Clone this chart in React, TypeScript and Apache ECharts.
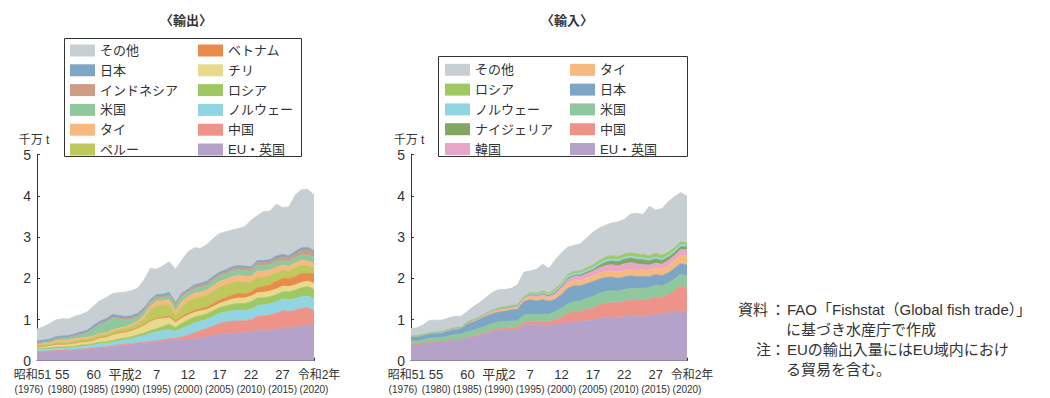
import React, { useEffect, useRef } from "react";
import * as echarts from "echarts";

const years = ["1976","1977","1978","1979","1980","1981","1982","1983","1984","1985","1986","1987","1988","1989","1990","1991","1992","1993","1994","1995","1996","1997","1998","1999","2000","2001","2002","2003","2004","2005","2006","2007","2008","2009","2010","2011","2012","2013","2014","2015","2016","2017","2018","2019","2020"];
const tickYears = ["1976","1980","1985","1990","1995","2000","2005","2010","2015","2020"];
const eraLabels = ["昭和51","55","60","平成2","7","12","17","22","27","令和2年"];

// 輸出 (千万t)
const exEU = [.21,.22,.23,.24,.24,.25,.26,.27,.28,.30, .31,.32,.34,.36,.37,.38,.40,.42,.43,.44, .47,.49,.49,.51,.52,.54,.56,.58,.61,.65, .66,.67,.67,.68,.70,.73,.72,.74,.76,.80, .80,.82,.85,.87,.84];
const exCN = [0,0,0,.01,.01,.01,.01,.01,.01,.01, .02,.02,.02,.03,.03,.03,.03,.03,.04,.04, .04,.05,.05,.07,.10,.14,.18,.20,.23,.26, .28,.29,.30,.29,.29,.35,.37,.37,.39,.41, .40,.40,.42,.42,.37];
const exNO = [.07,.06,.05,.05,.05,.05,.05,.06,.06,.07, .08,.08,.08,.09,.10,.12,.14,.16,.19,.22, .22,.21,.17,.20,.22,.23,.22,.22,.23,.24, .24,.25,.25,.25,.26,.26,.27,.27,.28,.29, .28,.28,.28,.28,.29];
const exRU = [.02,.02,.03,.03,.03,.03,.03,.04,.04,.04, .04,.04,.05,.05,.05,.05,.06,.06,.07,.08, .10,.14,.10,.13,.15,.15,.14,.14,.14,.14, .15,.16,.17,.17,.18,.18,.17,.17,.17,.17, .19,.21,.22,.23,.23];
const exCL = [.04,.05,.06,.07,.07,.07,.08,.08,.08,.08, .10,.11,.14,.14,.13,.14,.15,.18,.22,.23, .19,.15,.12,.12,.12,.11,.11,.10,.10,.10, .11,.12,.13,.13,.14,.13,.13,.14,.14,.14, .13,.13,.13,.13,.15];
const exVN = [0,0,0,0,0,0,0,0,0,0, .01,.01,.01,.01,.02,.02,.02,.02,.02,.02, .03,.04,.04,.04,.04,.05,.05,.06,.07,.08, .09,.10,.11,.10,.10,.12,.14,.15,.18,.19, .19,.20,.21,.19,.22];
const exPE = [.04,.04,.03,.04,.04,.04,.05,.04,.05,.06, .06,.06,.07,.07,.08,.09,.10,.15,.25,.30, .28,.28,.13,.24,.28,.29,.28,.28,.30,.31, .30,.30,.29,.28,.22,.26,.22,.22,.22,.20, .18,.21,.21,.18,.14];
const exTH = [.02,.02,.03,.04,.06,.05,.05,.05,.05,.04, .04,.04,.04,.04,.04,.05,.06,.08,.10,.12, .12,.12,.10,.12,.12,.13,.13,.13,.14,.14, .14,.15,.15,.15,.15,.15,.15,.14,.13,.12, .12,.12,.12,.12,.12];
const exUS = [.02,.03,.03,.04,.04,.05,.06,.08,.10,.18, .22,.25,.28,.22,.16,.12,.10,.09,.08,.08, .08,.08,.12,.12,.10,.10,.11,.12,.13,.14, .14,.14,.14,.14,.14,.14,.14,.13,.13,.12, .12,.13,.14,.14,.16];
const exID = [.02,.02,.02,.02,.02,.02,.02,.02,.02,.02, .02,.03,.03,.03,.04,.04,.04,.04,.04,.04, .04,.04,.05,.05,.05,.05,.05,.05,.05,.04, .05,.05,.05,.06,.06,.06,.07,.07,.08,.08, .08,.09,.10,.13,.10];
const exJP = [.04,.04,.04,.04,.04,.04,.04,.05,.05,.06, .06,.06,.06,.06,.05,.05,.05,.05,.04,.04, .04,.06,.04,.04,.04,.05,.05,.05,.05,.05, .05,.05,.05,.04,.04,.05,.05,.05,.06,.06, .06,.06,.06,.06,.05];
const exOT = [.29,.32,.38,.41,.42,.40,.43,.42,.45,.47, .50,.51,.51,.55,.60,.61,.61,.68,.76,.61, .69,.74,.81,.80,.91,.90,.85,.89,.92,.94, .92,.89,.90,.96,1.13,1.09,1.19,1.18,1.26,1.14, 1.18,1.37,1.41,1.41,1.35];

// 輸入 (千万t)
const imEU = [.39,.39,.41,.44,.46,.46,.48,.50,.51,.56, .58,.62,.66,.71,.74,.74,.74,.75,.88,.88, .86,.87,.85,.90,.91,.92,.95,.94,.98,.99, 1.02,1.05,1.06,1.04,1.07,1.09,1.07,1.08,1.07,1.14, 1.13,1.16,1.18,1.20,1.19];
const imCN = [0,0,0,0,0,0,.01,.01,.01,.01, .02,.02,.02,.03,.04,.05,.06,.06,.06,.08, .08,.08,.09,.10,.14,.22,.24,.25,.26,.29, .33,.34,.35,.36,.37,.38,.40,.40,.42,.41, .40,.44,.52,.62,.56];
const imUS = [.09,.09,.10,.10,.10,.10,.11,.12,.12,.14, .14,.15,.16,.16,.16,.16,.16,.16,.17,.17, .18,.18,.18,.19,.22,.24,.25,.26,.27,.28, .28,.29,.29,.29,.29,.29,.28,.28,.28,.29, .28,.28,.28,.28,.30];
const imJP = [.10,.10,.11,.11,.10,.11,.12,.13,.14,.18, .20,.22,.24,.24,.24,.25,.27,.28,.33,.35, .33,.35,.32,.30,.34,.38,.38,.37,.36,.36, .35,.34,.33,.31,.30,.30,.29,.28,.27,.25, .25,.25,.26,.26,.27];
const imTH = [.01,.01,.01,.01,.02,.02,.02,.02,.02,.03, .03,.03,.04,.05,.05,.05,.05,.05,.06,.08, .08,.08,.08,.09,.10,.12,.12,.12,.13,.13, .14,.15,.15,.15,.16,.16,.16,.16,.16,.16, .16,.17,.18,.20,.22];
const imKR = [0,0,0,0,0,0,0,0,0,0, .01,.01,.01,.02,.02,.02,.02,.02,.02,.03, .04,.05,.04,.06,.07,.09,.10,.11,.11,.12, .13,.14,.15,.15,.16,.16,.15,.13,.12,.12, .12,.13,.13,.14,.15];
const imNG = [0,0,0,0,0,0,0,0,0,.01, .01,.01,.01,.01,.01,.01,.01,.01,.01,.02, .02,.02,.02,.02,.02,.03,.03,.03,.04,.04, .06,.08,.09,.10,.11,.11,.11,.12,.10,.10, .09,.08,.07,.07,.07];
const imNO = [0,0,0,0,0,0,0,0,0,0, 0,0,0,0,.01,.01,.01,.01,.01,.02, .02,.03,.03,.04,.04,.05,.05,.05,.05,.05, .05,.05,.05,.05,.05,.05,.05,.05,.05,.05, .05,.05,.05,.05,.05];
const imRU = [.01,.01,.01,.02,.02,.02,.02,.03,.01,.01, .01,.01,.01,.01,.02,.02,.02,.02,.02,.03, .03,.04,.03,.05,.04,.05,.05,.05,.06,.06, .07,.08,.08,.08,.08,.08,.08,.08,.08,.09, .08,.07,.07,.07,.05];
const imOT = [.18,.20,.24,.30,.28,.28,.28,.27,.27,.26, .32,.35,.39,.43,.44,.42,.42,.49,.59,.52, .58,.64,.60,.70,.74,.66,.63,.66,.72,.80, .79,.77,.79,.84,.84,.94,.99,.97,1.20,1.05, 1.13,1.23,1.24,1.19,1.13];

const exLegendL = ["その他", "日本", "インドネシア", "米国", "タイ", "ペルー"];
const exLegendR = ["ベトナム", "チリ", "ロシア", "ノルウェー", "中国", "EU・英国"];
const imLegendL = ["その他", "ロシア", "ノルウェー", "ナイジェリア", "韓国"];
const imLegendR = ["タイ", "日本", "米国", "中国", "EU・英国"];

const COLORS: Record<string, string> = {
  "その他": "#c8cfd3",
  "日本": "#7da5c6",
  "インドネシア": "#cd9c82",
  "米国": "#8fc89c",
  "タイ": "#f6ba80",
  "ペルー": "#bec85c",
  "ベトナム": "#e98b4a",
  "チリ": "#e9d98d",
  "ロシア": "#9fc862",
  "ノルウェー": "#91d5e2",
  "中国": "#ee9389",
  "EU・英国": "#b4a2c8",
  "ナイジェリア": "#81a763",
  "韓国": "#e9a7c8",
};

const FONT = "'Liberation Sans', 'Noto Sans CJK JP', sans-serif";
const TXT = "#333";

function mkSeries(name: string, data: number[], idx: number) {
  const c = COLORS[name];
  return {
    type: "line",
    name,
    data,
    stack: idx === 0 ? "ex" : "im",
    xAxisIndex: idx,
    yAxisIndex: idx,
    symbol: "none",
    showSymbol: false,
    silent: true,
    lineStyle: { width: 0.8, color: c },
    itemStyle: { color: c },
    areaStyle: { color: c, opacity: 1 },
    emphasis: { disabled: true },
  };
}

function mkX(gridIndex: number) {
  const isTick = (i: number, v: string) => tickYears.indexOf(String(v)) >= 0;
  return {
    type: "category",
    gridIndex,
    data: years,
    boundaryGap: false,
    axisLine: { show: true, lineStyle: { color: TXT, width: 1 } },
    axisTick: { show: true, inside: true, length: 3, interval: isTick, lineStyle: { color: TXT } },
    axisLabel: {
      interval: 0,
      hideOverlap: false,
      margin: 6,
      color: TXT,
      fontFamily: FONT,
      formatter: (v: string) => {
        const k = tickYears.indexOf(String(v));
        if (k < 0) return "";
        const p = k === 0 ? "f" : k === tickYears.length - 1 ? "l" : "n";
        return `{${p}E|${eraLabels[k]}}\n{${p}Y|(${v})}`;
      },
      rich: {
        nE: { fontSize: 13, lineHeight: 16, color: TXT, fontFamily: FONT },
        nY: { fontSize: 10, lineHeight: 14, color: TXT, fontFamily: FONT },
        fE: { fontSize: 12, lineHeight: 16, color: TXT, fontFamily: FONT, padding: [0, 9, 0, 0] },
        fY: { fontSize: 10, lineHeight: 14, color: TXT, fontFamily: FONT, padding: [0, 16, 0, 0] },
        lE: { fontSize: 12, lineHeight: 16, color: TXT, fontFamily: FONT, padding: [0, 0, 0, 10] },
        lY: { fontSize: 10, lineHeight: 14, color: TXT, fontFamily: FONT },
      },
    },
    splitLine: { show: false },
  };
}

function mkY(gridIndex: number) {
  return {
    type: "value",
    gridIndex,
    min: 0,
    max: 5,
    interval: 1,
    axisLine: { show: true, lineStyle: { color: TXT, width: 1 } },
    axisTick: { show: true, inside: true, length: 3, lineStyle: { color: TXT } },
    axisLabel: { color: TXT, fontSize: 14, margin: 6, fontFamily: FONT },
    splitLine: { show: false },
  };
}

function mkLegend(data: string[], left: number, top: number) {
  return {
    data,
    left,
    top,
    orient: "vertical",
    icon: "rect",
    itemWidth: 25,
    itemHeight: 12,
    itemGap: 6.8,
    padding: 0,
    selectedMode: false,
    textStyle: { fontSize: 13, lineHeight: 12, color: TXT, fontFamily: FONT },
  };
}

export default function App() {
  const ref = useRef<HTMLDivElement>(null);
  useEffect(() => {
    if (!ref.current) return;
    const chart = echarts.init(ref.current, undefined, { renderer: "svg" });
    const exSeries = [
      mkSeries("EU・英国", exEU, 0),
      mkSeries("中国", exCN, 0),
      mkSeries("ノルウェー", exNO, 0),
      mkSeries("ロシア", exRU, 0),
      mkSeries("チリ", exCL, 0),
      mkSeries("ベトナム", exVN, 0),
      mkSeries("ペルー", exPE, 0),
      mkSeries("タイ", exTH, 0),
      mkSeries("米国", exUS, 0),
      mkSeries("インドネシア", exID, 0),
      mkSeries("日本", exJP, 0),
      mkSeries("その他", exOT, 0),
    ];
    const imSeries = [
      mkSeries("EU・英国", imEU, 1),
      mkSeries("中国", imCN, 1),
      mkSeries("米国", imUS, 1),
      mkSeries("日本", imJP, 1),
      mkSeries("タイ", imTH, 1),
      mkSeries("韓国", imKR, 1),
      mkSeries("ナイジェリア", imNG, 1),
      mkSeries("ノルウェー", imNO, 1),
      mkSeries("ロシア", imRU, 1),
      mkSeries("その他", imOT, 1),
    ];
    const t = (x: number, y: number, text: string, align: string) => ({
      type: "text",
      x,
      y,
      silent: true,
      style: { text, fontSize: 15, fill: TXT, fontFamily: FONT, textAlign: align, textVerticalAlign: "middle" },
    });
    const option: any = {
      animation: false,
      backgroundColor: "#ffffff",
      textStyle: { fontFamily: FONT },
      title: [
        { text: "〈輸出〉", left: 181, top: 9, textAlign: "center", textStyle: { fontSize: 13, fontWeight: "bold", color: TXT, fontFamily: FONT } },
        { text: "〈輸入〉", left: 562, top: 9, textAlign: "center", textStyle: { fontSize: 13, fontWeight: "bold", color: TXT, fontFamily: FONT } },
      ],
      legend: [
        mkLegend(exLegendL, 70, 44),
        mkLegend(exLegendR, 198, 44),
        mkLegend(imLegendL, 445, 63.3),
        mkLegend(imLegendR, 570, 63.3),
      ],
      grid: [
        { left: 37, top: 154.7, width: 277, height: 206, outerBoundsMode: "none", containLabel: false },
        { left: 411, top: 154.7, width: 276, height: 206, outerBoundsMode: "none", containLabel: false },
      ],
      xAxis: [mkX(0), mkX(1)],
      yAxis: [mkY(0), mkY(1)],
      series: [...exSeries, ...imSeries],
      graphic: [
        { type: "rect", silent: true, shape: { x: 64.5, y: 38.5, width: 237, height: 118 }, style: { fill: "none", stroke: TXT, lineWidth: 1 } },
        { type: "rect", silent: true, shape: { x: 438.5, y: 56.5, width: 249, height: 100 }, style: { fill: "none", stroke: TXT, lineWidth: 1 } },
        { type: "text", silent: true, x: 34, y: 140, style: { text: "千万 t", fontSize: 12, fill: TXT, fontFamily: FONT, textAlign: "center", textVerticalAlign: "middle" } },
        { type: "text", silent: true, x: 409, y: 140, style: { text: "千万 t", fontSize: 12, fill: TXT, fontFamily: FONT, textAlign: "center", textVerticalAlign: "middle" } },
        t(768, 309, "資料", "right"),
        t(778, 309, "：", "center"),
        t(787, 309, "FAO「Fishstat（Global fish trade）」", "left"),
        t(786, 329, "に基づき水産庁で作成", "left"),
        t(771, 349, "注", "right"),
        t(778, 349, "：", "center"),
        t(787, 349, "EUの輸出入量にはEU域内におけ", "left"),
        t(786, 369, "る貿易を含む。", "left"),
      ],
    };
    chart.setOption(option);
    return () => chart.dispose();
  }, []);
  return <div ref={ref} style={{ position: "absolute", left: 0, top: 0, width: 1050, height: 398 }} />;
}
